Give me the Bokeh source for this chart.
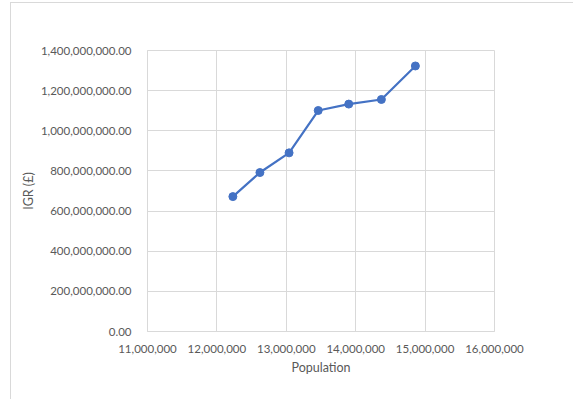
from bokeh.plotting import figure
from bokeh.layouts import column
from bokeh.models import NumeralTickFormatter, FixedTicker, Range1d
from bokeh.embed import file_html
from bokeh.resources import INLINE

population = [12230000, 12620000, 13040000, 13460000, 13900000, 14370000, 14860000]
igr = [672000000, 792000000, 890000000, 1101000000, 1133000000, 1156000000, 1323000000]
x_ticks = [11000000, 12000000, 13000000, 14000000, 15000000, 16000000]
y_ticks = [0, 200000000, 400000000, 600000000, 800000000, 1000000000, 1200000000, 1400000000]

FONT = "Lato"
GRAY = "#595959"
GRID = "#d9d9d9"

p = figure(width=556, height=396, output_backend="svg", toolbar_location=None,
           x_range=Range1d(11000000, 16000000), y_range=Range1d(0, 1400000000),
           frame_width=347, frame_height=281,
           min_border_left=20, min_border_top=47, min_border_right=79, min_border_bottom=68)
p.margin = (0, 0, 0, 6)
p.outline_line_color = GRID
p.background_fill_color = "white"

p.line(population, igr, line_color="#4472C4", line_width=2.2)
p.scatter(population, igr, size=8, fill_color="#4472C4", line_color="#4472C4")

p.xaxis.ticker = FixedTicker(ticks=x_ticks)
p.yaxis.ticker = FixedTicker(ticks=y_ticks)
p.xaxis.formatter = NumeralTickFormatter(format="0,0")
p.yaxis.formatter = NumeralTickFormatter(format="0,0.00")

for ax in (p.xaxis[0], p.yaxis[0]):
    ax.axis_line_color = GRID
    ax.major_tick_line_color = None
    ax.minor_tick_line_color = None
    ax.major_label_text_font = FONT
    ax.major_label_text_font_size = "11.5px"
    ax.major_label_text_color = GRAY
    ax.axis_label_text_font = FONT
    ax.axis_label_text_font_size = "12.5px"
    ax.axis_label_text_color = GRAY
    ax.axis_label_text_font_style = "normal"

p.xaxis.axis_label = "Population"
p.yaxis.axis_label = "IGR (£)"
p.xaxis.major_label_standoff = 7
p.yaxis.major_label_standoff = 10
p.xaxis.axis_label_standoff = 4
p.yaxis.axis_label_standoff = 2

p.xgrid.grid_line_color = GRID
p.ygrid.grid_line_color = GRID
p.xgrid.ticker = FixedTicker(ticks=x_ticks)
p.ygrid.ticker = FixedTicker(ticks=y_ticks)

layout = column(p, margin=(2, 0, 0, 10),
                styles={"border-left": "1px solid #d9d9d9", "border-top": "1px solid #d9d9d9"})

open("out.html", "w").write(file_html(layout, INLINE))
